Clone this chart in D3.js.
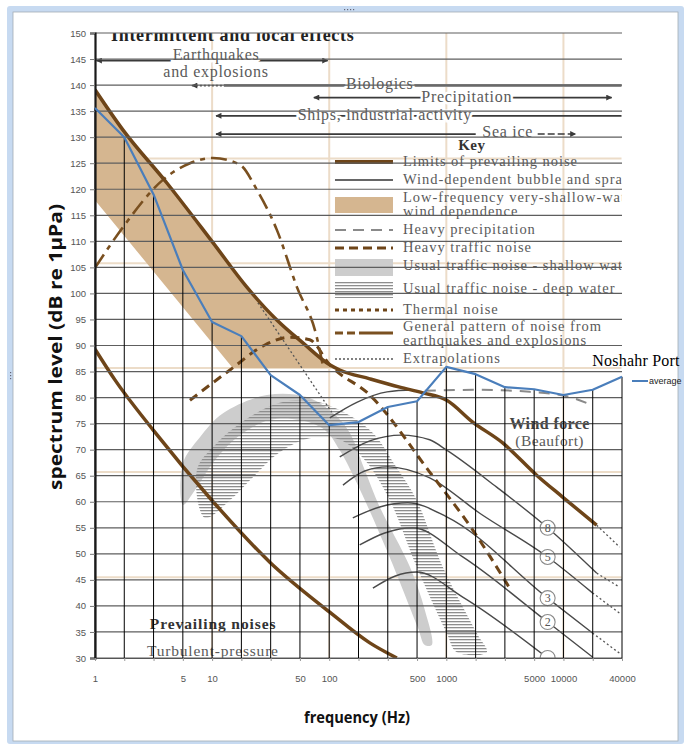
<!DOCTYPE html>
<html>
<head>
<meta charset="utf-8">
<script src="https://cdn.jsdelivr.net/npm/d3@7"></script>
<style>
  body { margin: 0; background: #fff; }
  svg { display: block; }
</style>
</head>
<body>
<svg id="chart" width="688" height="745"></svg>
<script>
// ---- chart data (Noshahr Port, average spectrum level) ----
var categories = ["1","2","3","5","10","20","30","50","100","200","300","500","1000","2000","3000","5000","10000","20000","40000"];
var tickLabels = ["1","","","5","10","","","50","100","","","500","1000","","","5000","10000","","40000"];
var averageLevel = [135.6,130,119,104.5,94.5,91.8,84.3,80.5,74.7,75.3,78.2,79.3,85.9,84.5,82,81.6,80.5,81.5,84];
var yTicks = [30,35,40,45,50,55,60,65,70,75,80,85,90,95,100,105,110,115,120,125,130,135,140,145,150];

// ---- Wenz curves behind the chart, [frequency Hz, dB] ----
var upperLimit = [[1,139.1],[1.73,131.4],[4.11,121.2],[10.2,109.7],[19.8,101.2],[35.7,94.9],[59.6,90.5],[101,86.3],[123,85.3],[222,83.6],[400,82.0],[630,80.9],[1007,79.5],[1679,75.3],[3027,71.3],[5902,65.1],[9840,60.9],[19200,55.5]];
var upperExtrap = [[19200,55.5],[30200,51.3]];
var lowerLimit = [[1,89.3],[1.48,83.4],[3.13,73.8],[10.2,60.0],[31.1,48.4],[101,38.8],[222,32.9],[378,30.0]];
var bandBottom = [[105,85.7],[15,85.7],[1,117.9]];
var quakeCurve = [[1,104.9],[1.73,112.7],[3.8,121.8],[6.47,125.0],[10.2,126.0],[17.3,124.7],[24.1,119.9],[35.7,112.2],[53,101.2],[78.3,91.6],[88,86.3]];
var heavyTraffic = [[6.47,79.5],[14.2,85.3],[28.2,90.1],[46.1,91.6],[68.2,91.1],[101,86.3],[222,80.5],[721,65.7],[1679,54.6],[3475,43.4]];
var heavyRain = [[655,81.3],[1928,81.5],[5152,81.1],[10400,80.3],[17400,78.6]];
var lowExtrap = [[24.6,98.2],[105,77.2]];
var windTop = [[101,76.1],[172,79.1],[312,81.1],[537,81.5]];
var wind8 = [[123,68.6],[222,71.7],[416,72.8],[721,71.9],[1007,69.9],[2692,62.8],[7328,55.0],[19200,46.3]];
var wind5 = [[131,63.2],[201,65.9],[316,66.7],[721,64.6],[1928,57.8],[7328,49.4],[17700,42.5]];
var wind3 = [[159,56.9],[270,59.0],[469,59.8],[1007,57.1],[7328,41.5],[17700,34.8]];
var wind2 = [[182,51.7],[298,54.0],[516,55.0],[1380,49.4],[7328,36.9],[17700,30.2]];
var wind1 = [[236,43.4],[363,45.7],[558,46.5],[1380,41.7],[7328,30.0]];
var windExtrap = [[[19200,46.3],[30200,43.6]],[[17700,42.5],[30200,38.6]],[[17700,34.8],[30200,30.9]]];
var beaufortLabels = [["8",7328,55.0],["5",7328,49.4],["3",7328,41.5],["2",7328,36.9],["",7328,30.0]];
var shallowBand = [[5.64,67.4],[7.87,72.4],[12.4,77.0],[29.4,80.5],[64.4,80.1],[112,76.7],[150,73.2],[201,66.1],[270,59.0],[488,47.5],[655,39.2],[750,32.5],
                   [655,32.5],[570,35.9],[310,50.7],[172,63.6],[123,69.9],[91.6,73.8],[56.1,75.7],[31.1,75.7],[17.3,72.8],[10.6,68.0],[7.13,62.2],[5.64,59.4]];
var deepBand = [[7.42,66.1],[10.6,70.9],[19.1,75.7],[37.8,79.0],[68.2,79.5],[123,77.6],[236,73.2],[363,67.1],[558,60.3],[931,47.5],[1816,34.8],[2213,31.1],
                [1227,31.1],[1007,34.8],[558,47.5],[329,60.3],[201,68.0],[123,71.9],[68.2,72.2],[37.8,69.5],[23.2,65.1],[14.2,60.3],[8.68,56.9]];
var wenzGridFreq = [10,100,1000,10000];
var wenzGridLevel = [125.9,105.8,85.7,65.7,45.5];

var W = 688, H = 745;
var margin = {top: 33, right: 66, bottom: 87, left: 95};
var svg = d3.select("#chart");

var x = d3.scalePoint().domain(categories).range([margin.left, W - margin.right]);
var y = d3.scaleLinear().domain([30, 150]).range([H - margin.bottom, margin.top]);
// the pasted Wenz picture runs on its own log axis, one decade per four categories
var wx = d3.scaleLog().domain([1, 10000]).range([x("1"), x("10000")]);

var brown = "#6e4519", tan = "#d5b690", serif = "'Liberation Serif', 'Times New Roman', serif";
var narrow = "'Liberation Sans Narrow', 'Liberation Sans', sans-serif";

// window frame
svg.append("rect").attr("x", 7).attr("y", 6).attr("width", 677).attr("height", 738).attr("fill", "#c7daf1").attr("rx", 3);
svg.append("rect").attr("x", 13).attr("y", 12).attr("width", 665).attr("height", 729)
    .attr("fill", "#fff").attr("stroke", "#a4acb5").attr("stroke-width", 0.8);
[344, 347, 350, 353].forEach(function(d) {
    svg.append("rect").attr("x", d).attr("y", 9).attr("width", 1.2).attr("height", 1.2).attr("fill", "#667");
});
[372, 375, 378].forEach(function(d) {
    svg.append("rect").attr("x", 10).attr("y", d).attr("width", 1.2).attr("height", 1.2).attr("fill", "#667");
});

var defs = svg.append("defs");
defs.append("clipPath").attr("id", "plotClip").append("rect")
    .attr("x", margin.left).attr("y", margin.top)
    .attr("width", W - margin.right - margin.left - 0.5).attr("height", H - margin.bottom - margin.top);
var stripes = defs.append("pattern").attr("id", "stripes").attr("patternUnits", "userSpaceOnUse")
    .attr("width", 8).attr("height", 3);
stripes.append("rect").attr("width", 8).attr("height", 1.3).attr("fill", "#8e8e8e");
defs.append("marker").attr("id", "arrow").attr("viewBox", "0 0 10 10").attr("refX", 9).attr("refY", 5)
    .attr("markerUnits", "userSpaceOnUse").attr("markerWidth", 8).attr("markerHeight", 6)
    .attr("orient", "auto-start-reverse")
    .append("path").attr("d", "M0,0L10,5L0,10Z").attr("fill", "#3a3a3a");

var line = d3.line().x(function(d) { return wx(d[0]); }).y(function(d) { return y(d[1]); }).curve(d3.curveMonotoneX);
var straight = d3.line().x(function(d) { return wx(d[0]); }).y(function(d) { return y(d[1]); });
var blob = d3.line().x(function(d) { return wx(d[0]); }).y(function(d) { return y(d[1]); }).curve(d3.curveCatmullRomClosed.alpha(0.5));

// ---- background picture ----
var bg = svg.append("g").attr("clip-path", "url(#plotClip)");

bg.selectAll(".wgv").data(wenzGridFreq).enter().append("line")
    .attr("x1", function(d) { return wx(d); }).attr("x2", function(d) { return wx(d); })
    .attr("y1", y(150)).attr("y2", y(30)).attr("stroke", "#ecdcc8").attr("stroke-width", 2);
bg.selectAll(".wgh").data(wenzGridLevel).enter().append("line")
    .attr("x1", x("1")).attr("x2", x("40000")).attr("y1", function(d) { return y(d); }).attr("y2", function(d) { return y(d); })
    .attr("stroke", "#ecdcc8").attr("stroke-width", 2);

var bandTop = upperLimit.filter(function(d) { return d[0] <= 101; });
bg.append("path")
    .attr("d", line(bandTop) + bandBottom.map(function(d) { return "L" + wx(d[0]) + "," + y(d[1]); }).join("") + "Z")
    .attr("fill", tan);

bg.append("path").attr("d", blob(shallowBand)).attr("fill", "#cdcdcd");
bg.append("path").attr("d", blob(deepBand)).attr("fill", "url(#stripes)");

function curve(data, color, width, dash, gen) {
    bg.append("path").attr("d", (gen || line)(data)).attr("fill", "none")
        .attr("stroke", color).attr("stroke-width", width).attr("stroke-dasharray", dash || null);
}
[windTop, wind8, wind5, wind3, wind2, wind1].forEach(function(d) { curve(d, "#4a4a4a", 1.4); });
windExtrap.forEach(function(d) { curve(d, "#555", 1.3, "2,2.5", straight); });
curve(heavyRain, "#8a8a8a", 2, "11,8");
curve(lowExtrap, "#555", 1.3, "2,2.5", straight);
curve(heavyTraffic, brown, 3, "9,6");
curve(quakeCurve, "#7a5020", 2.6, "16,6,5,6");
curve(upperLimit, brown, 3.5);
curve(upperExtrap, "#555", 1.3, "2,2.5", straight);
curve(lowerLimit, brown, 3.5);

var circ = bg.selectAll(".bf").data(beaufortLabels).enter().append("g")
    .attr("transform", function(d) { return "translate(" + wx(d[1]) + "," + y(d[2]) + ")"; });
circ.append("circle").attr("r", 7.5).attr("fill", "#fff").attr("stroke", "#8a8a8a").attr("stroke-width", 1.1);
circ.append("text").attr("text-anchor", "middle").attr("dy", "0.36em").attr("font-family", serif)
    .attr("font-size", 12).attr("fill", "#555").text(function(d) { return d[0]; });

// arrows and labels across the top of the picture
var arrows = [
    {from: 1.03, to: 97, level: 144.7, start: true, end: true, color: "#3a3a3a", width: 1.8},
    {from: 12.6, to: 60000, level: 139.9, start: false, end: false, color: "#8a8a8a", width: 3},
    {from: 73.9, to: 25800, level: 137.6, start: true, end: true, color: "#3a3a3a", width: 1.8},
    {from: 10.8, to: 60000, level: 134.1, start: true, end: false, color: "#3a3a3a", width: 1.8},
    {from: 10.8, to: 1782, level: 130.6, start: true, end: false, color: "#3a3a3a", width: 1.8}
];
arrows.forEach(function(a) {
    bg.append("line").attr("x1", wx(a.from)).attr("x2", wx(a.to)).attr("y1", y(a.level)).attr("y2", y(a.level))
        .attr("stroke", a.color).attr("stroke-width", a.width)
        .attr("marker-start", a.start ? "url(#arrow)" : null).attr("marker-end", a.end ? "url(#arrow)" : null);
});
bg.append("line").attr("x1", wx(6.72)).attr("x2", wx(12.6)).attr("y1", y(139.9)).attr("y2", y(139.9))
    .attr("stroke", "#555").attr("stroke-width", 1.6).attr("stroke-dasharray", "2,2").attr("marker-start", "url(#arrow)");
bg.append("line").attr("x1", wx(6026)).attr("x2", wx(12700)).attr("y1", y(130.6)).attr("y2", y(130.6))
    .attr("stroke", "#3a3a3a").attr("stroke-width", 1.6).attr("stroke-dasharray", "7,3").attr("marker-end", "url(#arrow)");

function label(txt, f, level, opts) {
    opts = opts || {};
    var t = bg.append("text").attr("x", wx(f)).attr("y", y(level))
        .attr("font-family", serif).attr("font-size", opts.size || 16)
        .attr("font-weight", opts.bold ? "bold" : null)
        .attr("letter-spacing", opts.spacing == null ? 0.7 : opts.spacing)
        .attr("text-anchor", opts.anchor || "middle")
        .attr("fill", opts.color || "#5a5a5a").text(txt);
    if (opts.halo) t.attr("stroke", "#fff").attr("stroke-width", 5).attr("paint-order", "stroke");
    return t;
}
label("Intermittent and local effects", 1.37, 148.45, {anchor: "start", bold: true, size: 18, color: "#222"});
label("Earthquakes", 10.8, 144.9, {halo: true});
label("and explosions", 10.8, 141.6);
label("Biologics", 270, 139.3, {halo: true});
label("Precipitation", 1494, 136.8, {halo: true});
label("Ships, industrial activity", 298, 133.3, {halo: true});
label("Sea ice", 3342, 130.0, {halo: true});
label("Key", 1650, 127.5, {bold: true, size: 15, color: "#333", spacing: 0.4});
label("Wind force", 7621, 74.0, {bold: true, color: "#444", spacing: 0.4});
label("(Beaufort)", 7621, 70.7, {size: 15.5, spacing: 0.4});
label("Prevailing noises", 2.94, 35.6, {anchor: "start", bold: true, size: 15.5, color: "#333", spacing: 0.9});
label("Turbulent-pressure", 2.78, 30.3, {anchor: "start", size: 15.5, spacing: 0.8});

// key of the picture
var kx = wx(112), kw = 58, tx = kx + 68;
var key = bg.append("g").attr("font-family", serif).attr("font-size", 14.5)
    .attr("letter-spacing", 0.95).attr("fill", "#5a5a5a");
function keyLine(yy, color, width, dash) {
    key.append("line").attr("x1", kx).attr("x2", kx + kw).attr("y1", yy).attr("y2", yy)
        .attr("stroke", color).attr("stroke-width", width).attr("stroke-dasharray", dash || null);
}
function keyText(yy, txt) { key.append("text").attr("x", tx).attr("y", yy).text(txt); }
keyLine(162, brown, 4); keyText(166, "Limits of prevailing noise");
keyLine(180, "#666", 2); keyText(184, "Wind-dependent bubble and spray noise");
key.append("rect").attr("x", kx).attr("y", 197).attr("width", kw).attr("height", 16).attr("fill", tan);
keyText(201.5, "Low-frequency very-shallow-water"); keyText(216, "wind dependence");
keyLine(230, "#8a8a8a", 2.2, "11,7"); keyText(234, "Heavy precipitation");
keyLine(248, brown, 3, "9,5"); keyText(252, "Heavy traffic noise");
key.append("rect").attr("x", kx).attr("y", 259).attr("width", kw).attr("height", 17).attr("fill", "#cdcdcd");
keyText(270, "Usual traffic noise - shallow water");
key.append("rect").attr("x", kx).attr("y", 282).attr("width", kw).attr("height", 16).attr("fill", "url(#stripes)");
keyText(293, "Usual traffic noise - deep water");
keyLine(310, brown, 3, "4,4"); keyText(314, "Thermal noise");
keyLine(333, "#7a5020", 3, "8,4,8,4,40"); keyText(330.5, "General pattern of noise from"); keyText(345, "earthquakes and explosions");
keyLine(359, "#555", 1.5, "2,2"); keyText(363, "Extrapolations");

// ---- Excel layer: gridlines, axes, drop lines, series ----
svg.append("g").selectAll("line").data(yTicks).enter().append("line")
    .attr("x1", x("1")).attr("x2", x("40000"))
    .attr("y1", function(d) { return y(d); }).attr("y2", function(d) { return y(d); })
    .attr("stroke", "#5e5e5e").attr("stroke-width", 1.2);

svg.append("g").selectAll("line").data(averageLevel).enter().append("line")
    .attr("x1", function(d, i) { return x(categories[i]); }).attr("x2", function(d, i) { return x(categories[i]); })
    .attr("y1", function(d) { return y(d); }).attr("y2", y(30))
    .attr("stroke", "#000").attr("stroke-width", 1);

var yAxis = svg.append("g").attr("transform", "translate(" + margin.left + ",0)")
    .call(d3.axisLeft(y).tickValues(yTicks).tickSize(5).tickPadding(4));
yAxis.select(".domain").attr("stroke", "#1a1a1a").attr("stroke-width", 2.2);
yAxis.selectAll(".tick line").attr("stroke", "#777");
yAxis.selectAll("text").attr("font-family", narrow).attr("font-size", 9.5).attr("fill", "#555");

var xAxis = svg.append("g").attr("transform", "translate(0," + y(30) + ")")
    .call(d3.axisBottom(x).tickFormat(function(d, i) { return tickLabels[i]; }).tickSize(3).tickPadding(14));
xAxis.select(".domain").attr("stroke", "#555").attr("stroke-width", 1);
xAxis.selectAll(".tick line").attr("stroke", "#999");
xAxis.selectAll("text").attr("font-family", narrow).attr("font-size", 9.5).attr("fill", "#555");

svg.append("path").datum(averageLevel)
    .attr("d", d3.line().x(function(d, i) { return x(categories[i]); }).y(function(d) { return y(d); }))
    .attr("fill", "none").attr("stroke", "#4a7ebb").attr("stroke-width", 2.2).attr("stroke-linejoin", "round");

// title and legend
svg.append("text").attr("x", 636).attr("y", 366).attr("text-anchor", "middle")
    .attr("font-family", serif).attr("font-size", 16).attr("letter-spacing", 0.2)
    .attr("fill", "#000").text("Noshahr Port");
svg.append("line").attr("x1", 632).attr("x2", 648).attr("y1", 381).attr("y2", 381)
    .attr("stroke", "#4a7ebb").attr("stroke-width", 2);
svg.append("text").attr("x", 649).attr("y", 384).attr("font-family", narrow)
    .attr("font-size", 9).attr("fill", "#222").text("average");

// axis titles
svg.append("text").attr("transform", "translate(62,347) rotate(-90)").attr("text-anchor", "middle")
    .attr("font-family", "'Open Sans', sans-serif").attr("font-weight", "bold").attr("font-size", 18.5)
    .attr("textLength", 286).attr("lengthAdjust", "spacingAndGlyphs")
    .attr("fill", "#111").text("spectrum level (dB re 1µPa)");
svg.append("text").attr("x", 357).attr("y", 723).attr("text-anchor", "middle")
    .attr("font-family", "'Open Sans', sans-serif").attr("font-weight", "bold").attr("font-size", 16.5)
    .attr("textLength", 106).attr("lengthAdjust", "spacingAndGlyphs")
    .attr("fill", "#111").text("frequency (Hz)");
</script>
</body>
</html>
